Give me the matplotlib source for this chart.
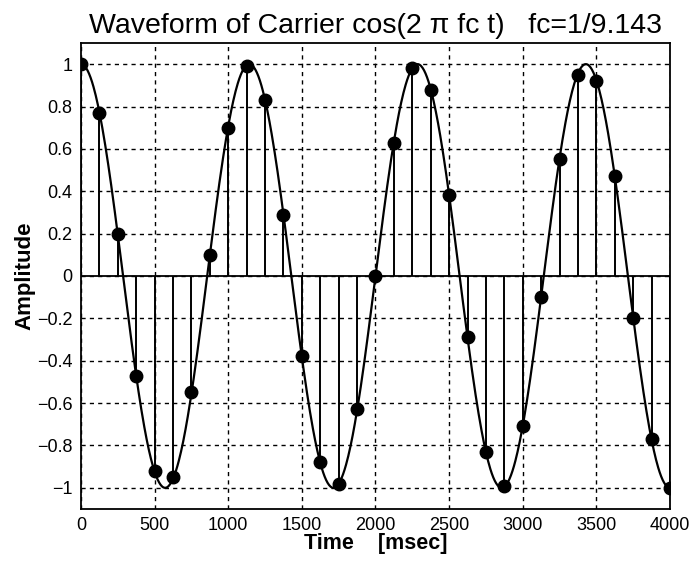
import numpy as np
import matplotlib
matplotlib.use("Agg")
import matplotlib.pyplot as plt

plt.rcParams['font.family'] = ['Liberation Sans', 'DejaVu Sans']

time_ms = [0, 125, 250, 375, 500, 625, 750, 875, 1000, 1125, 1250, 1375,
           1500, 1625, 1750, 1875, 2000, 2125, 2250, 2375, 2500, 2625,
           2750, 2875, 3000, 3125, 3250, 3375, 3500, 3625, 3750, 3875, 4000]
amplitude = [1.00, 0.77, 0.20, -0.47, -0.92, -0.95, -0.55, 0.10, 0.70, 0.99,
             0.83, 0.29, -0.38, -0.88, -0.98, -0.63, 0.00, 0.63, 0.98, 0.88,
             0.38, -0.29, -0.83, -0.99, -0.71, -0.10, 0.55, 0.95, 0.92, 0.47,
             -0.20, -0.77, -1.00]

# Carrier parameters given in the title
fc = 1 / 9.143          # cycles per sample
sample_period = 125.0   # msec per sample

xticks = [0, 500, 1000, 1500, 2000, 2500, 3000, 3500, 4000]
yticks = [-1, -0.8, -0.6, -0.4, -0.2, 0, 0.2, 0.4, 0.6, 0.8, 1]
ytick_labels = ['\u22121', '\u22120.8', '\u22120.6', '\u22120.4', '\u22120.2', '0',
                '0.2', '0.4', '0.6', '0.8', '1']

fig = plt.figure(figsize=(6.94, 5.67), dpi=100)
ax = fig.add_axes([0.1167, 0.1023, 0.8487, 0.8219])

t = np.linspace(0, 4000, 801)
ax.plot(t, np.cos(2 * np.pi * fc * t / sample_period), color='black', lw=1.6, zorder=3)

ml, sl, bl = ax.stem(time_ms, amplitude, linefmt='k-', markerfmt='ko', basefmt='k-')
plt.setp(sl, linewidth=1.4)
plt.setp(ml, markersize=9, zorder=4)
plt.setp(bl, linewidth=1.3)

ax.set_xlim(0, 4000)
ax.set_ylim(-1.1, 1.1)
ax.set_xticks(xticks)
ax.set_yticks(yticks)
ax.set_yticklabels(ytick_labels)
ax.grid(True, color='black', linestyle=(0, (3, 3)), linewidth=1.0)
ax.set_axisbelow(True)
ax.tick_params(labelsize=13, length=0, pad=6)
for s in ax.spines.values():
    s.set_linewidth(1.3)

ax.set_title('Waveform of Carrier cos(2 \u03c0 fc t)   fc=1/9.143', fontsize=20.5, pad=7)
ax.set_xlabel('Time    [msec]', fontsize=15.5, fontweight='bold', labelpad=-1)
ax.set_ylabel('Amplitude', fontsize=16, fontweight='bold', labelpad=1)

fig.savefig('out.png', dpi=100)
